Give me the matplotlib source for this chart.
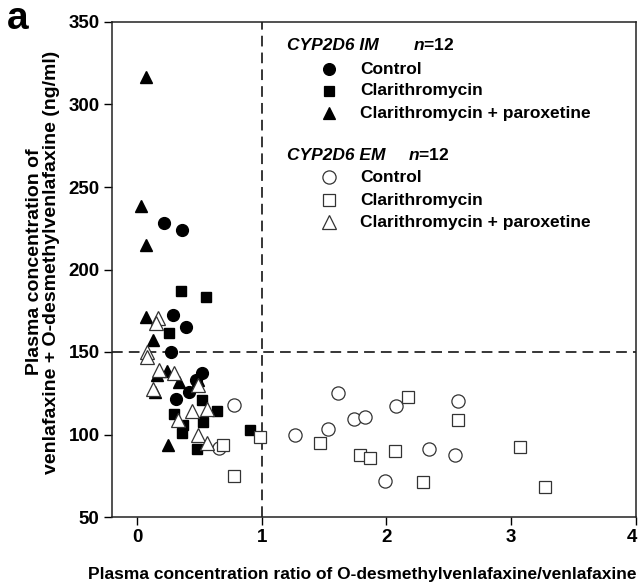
import matplotlib
matplotlib.use("Agg")
import matplotlib.pyplot as plt
from matplotlib.lines import Line2D
import matplotlib.transforms as mtransforms

plt.rcParams['font.family'] = ['Liberation Sans', 'DejaVu Sans']
plt.rcParams['font.weight'] = 'bold'
plt.rcParams['mathtext.fontset'] = 'custom'
plt.rcParams['mathtext.it'] = 'Liberation Sans:bold:italic'
plt.rcParams['mathtext.rm'] = 'Liberation Sans:bold'

# IM (filled markers)
im_ctrl_x = [0.22, 0.36, 0.29, 0.39, 0.27, 0.525, 0.42, 0.31, 0.47]
im_ctrl_y = [228.4, 223.7, 172.2, 165.2, 149.8, 137.0, 126.0, 121.5, 133.0]

im_clar_x = [0.35, 0.55, 0.26, 0.52, 0.645, 0.30, 0.53, 0.37, 0.36, 0.91, 0.48]
im_clar_y = [187.2, 183.3, 161.3, 121.0, 114.5, 112.2, 107.5, 105.8, 100.7, 102.5, 91.5]

im_cp_x = [0.07, 0.03, 0.07, 0.07, 0.125, 0.16, 0.24, 0.34, 0.49, 0.145, 0.25]
im_cp_y = [316.9, 238.5, 214.8, 171.4, 157.5, 136.0, 138.7, 132.0, 133.0, 126.0, 93.5]

# EM (open markers)
em_ctrl_x = [0.78, 0.66, 1.27, 1.61, 1.53, 1.74, 1.83, 2.08, 2.34, 2.55, 2.57, 1.99]
em_ctrl_y = [117.9, 91.6, 99.6, 125.0, 103.3, 109.2, 110.8, 117.5, 91.0, 87.4, 120.3, 72.0]

em_clar_x = [0.69, 0.775, 0.99, 1.47, 1.79, 1.87, 2.07, 2.17, 2.57, 2.29, 3.07, 3.27]
em_clar_y = [93.6, 74.7, 98.2, 94.7, 87.6, 86.0, 90.2, 122.9, 108.6, 71.3, 92.5, 68.0]

em_cp_x = [0.165, 0.15, 0.08, 0.08, 0.18, 0.30, 0.49, 0.125, 0.56, 0.44, 0.33, 0.49, 0.56]
em_cp_y = [170.4, 167.4, 150.0, 147.0, 139.0, 137.5, 130.0, 127.3, 115.5, 114.0, 108.8, 99.7, 95.0]

x_ticks = [0, 1, 2, 3, 4]
y_ticks = [50, 100, 150, 200, 250, 300, 350]
ratio_cut = 1
conc_cut = 150

fig = plt.figure(figsize=(6.39, 5.84), dpi=100)
ax = fig.add_axes([112/639, 1-517/584, (636-112)/639, (517-22)/584])

ms_f = 8.5
ax.plot(im_ctrl_x, im_ctrl_y, 'o', color='black', ms=ms_f, mec='black', zorder=3)
ax.plot(im_clar_x, im_clar_y, 's', color='black', ms=ms_f-1, mec='black', zorder=3)
ax.plot(im_cp_x, im_cp_y, '^', color='black', ms=ms_f, mec='black', zorder=3)
ec = '#333333'
ax.plot(em_ctrl_x, em_ctrl_y, 'o', mfc='white', mec=ec, mew=0.9, ms=9.5, zorder=4)
ax.plot(em_clar_x, em_clar_y, 's', mfc='white', mec=ec, mew=0.9, ms=8.5, zorder=5)
ax.plot(em_cp_x, em_cp_y, '^', mfc='white', mec=ec, mew=0.9, ms=10, zorder=6)

ax.axvline(ratio_cut, color='black', lw=1.1, ls=(0, (7, 4)), zorder=2)
ax.axhline(conc_cut, color='black', lw=1.1, ls=(0, (7, 4)), zorder=2)

ax.set_xlim(-0.2, 4.0)
ax.set_ylim(50, 350)
ax.set_xticks(x_ticks)
ax.set_yticks(y_ticks)
ax.tick_params(direction='out', length=6, width=1, labelsize=13.5, pad=3)
for lbl in ax.get_xticklabels() + ax.get_yticklabels():
    lbl.set_fontweight('bold')
# nudge the last x tick label so it stays inside the canvas
last = ax.get_xticklabels()[-1]
last.set_transform(last.get_transform() +
                   mtransforms.ScaledTranslation(-4/100, 0, fig.dpi_scale_trans))
for s in ax.spines.values():
    s.set_linewidth(1.1)
    s.set_color('#222222')

def fx(px):
    return px/639
def fy(py):
    return 1-py/584

fig.text(fx(362), fy(575), 'Plasma concentration ratio of O-desmethylvenlafaxine/venlafaxine',
         fontsize=12.5, fontweight='bold', ha='center', va='center')
fig.text(fx(43), fy(262), 'Plasma concentration of\nvenlafaxine + O-desmethylvenlafaxine (ng/ml)',
         fontsize=14, fontweight='bold', ha='center', va='center', rotation=90,
         multialignment='center', linespacing=1.0)

fig.text(fx(7), fy(19), 'a', fontsize=28, fontweight='bold', ha='left', va='center')

fs = 12.5
fig.text(fx(287), fy(45), 'CYP2D6 IM', fontsize=fs, fontweight='bold', style='italic', va='center')
fig.text(fx(413), fy(45), r'$n$=12', fontsize=fs, fontweight='bold', va='center')
fig.text(fx(287), fy(155), 'CYP2D6 EM', fontsize=fs, fontweight='bold', style='italic', va='center')
fig.text(fx(408), fy(155), r'$n$=12', fontsize=fs, fontweight='bold', va='center')

rows = [
    (69, 'o', 'black', 'black', 'Control', 8.5),
    (91, 's', 'black', 'black', 'Clarithromycin', 7.5),
    (113, '^', 'black', 'black', 'Clarithromycin + paroxetine', 8.5),
    (177, 'o', 'white', ec, 'Control', 9.5),
    (200, 's', 'white', ec, 'Clarithromycin', 8.5),
    (222, '^', 'white', ec, 'Clarithromycin + paroxetine', 10),
]
for py, m, fc, mc, txt, ms in rows:
    fig.add_artist(Line2D([fx(329)], [fy(py)], marker=m, mfc=fc, mec=mc, ms=ms,
                          mew=0.9, ls='none', transform=fig.transFigure))
    fig.text(fx(360), fy(py), txt, fontsize=fs, fontweight='bold', va='center')

fig.savefig('out.png', dpi=100)
